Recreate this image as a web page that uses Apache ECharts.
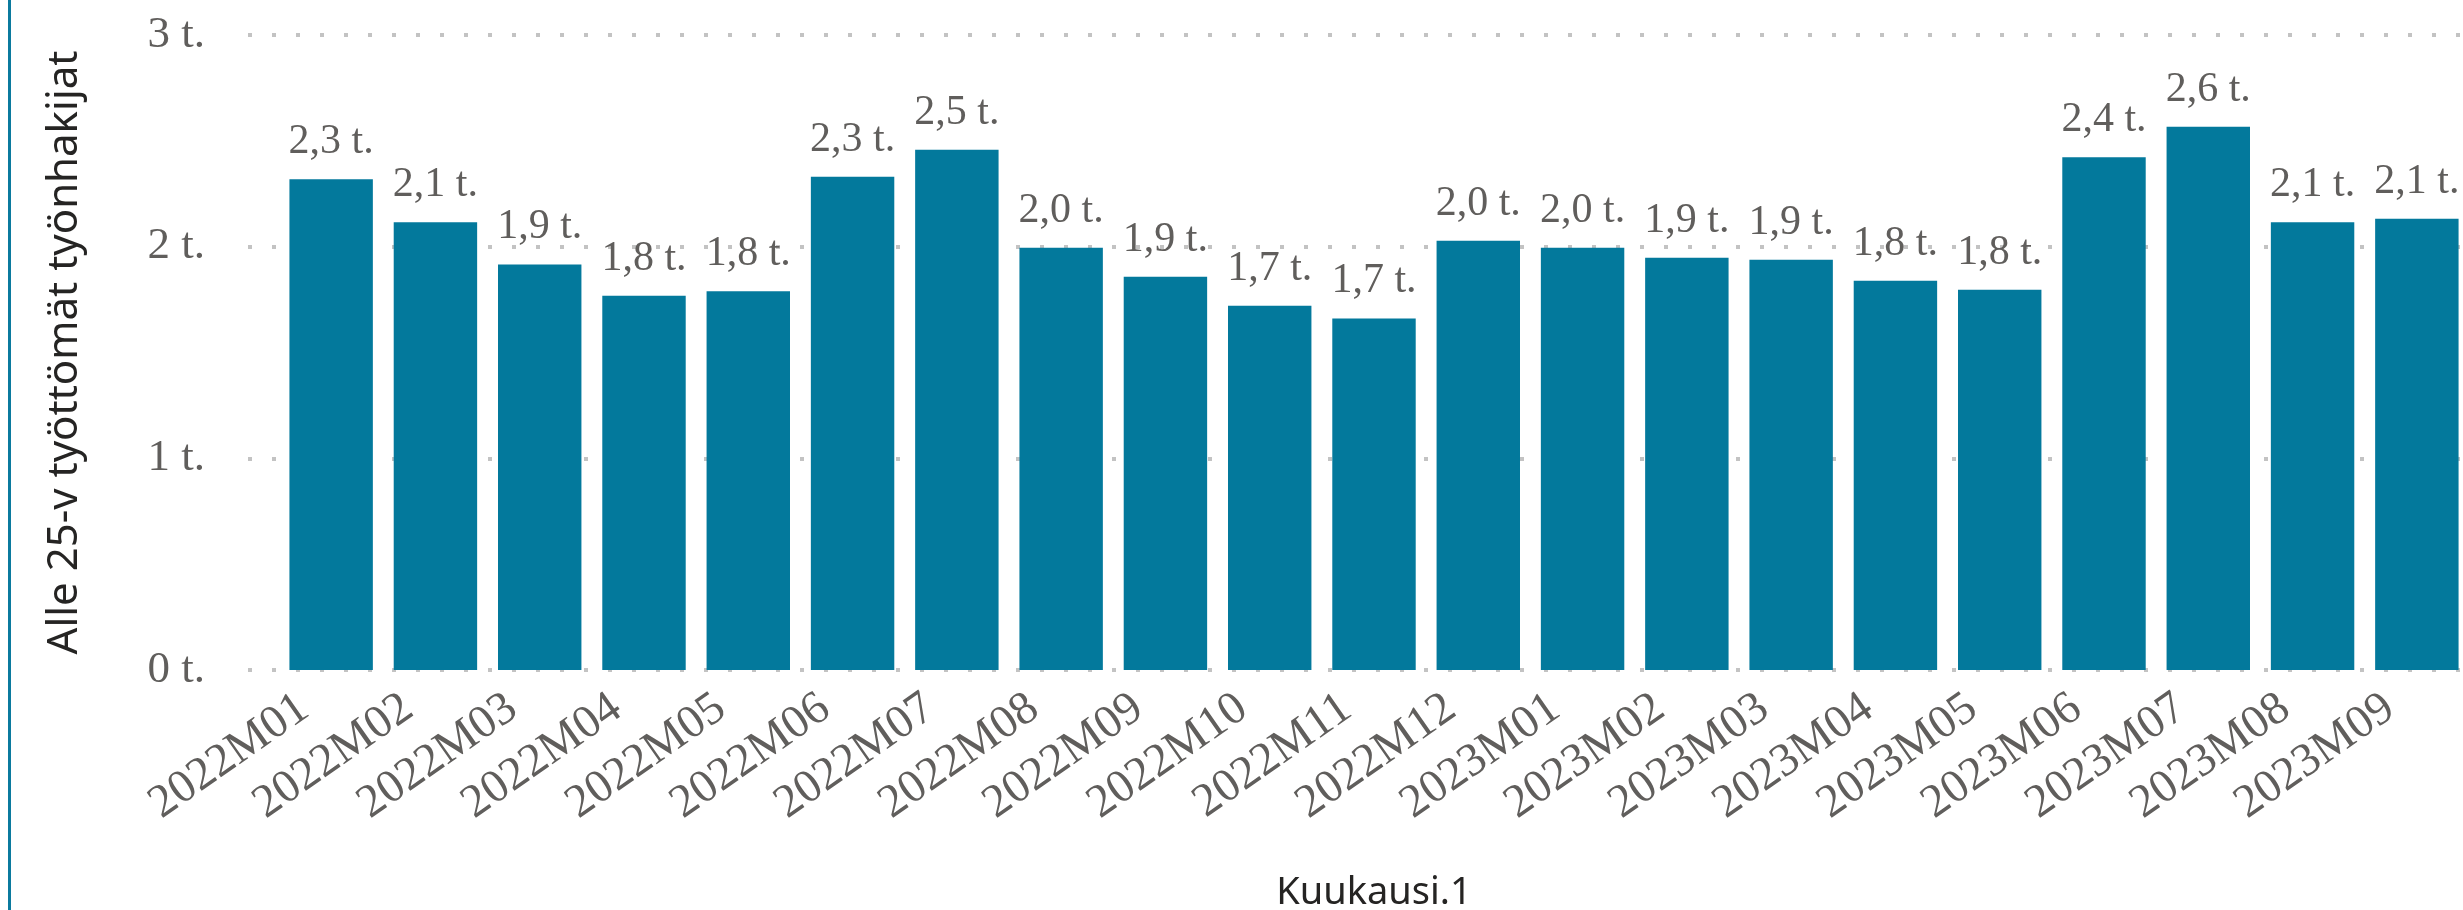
<!DOCTYPE html>
<html>
<head>
<meta charset="utf-8">
<title>Alle 25-v työttömät työnhakijat</title>
<script src="https://cdn.jsdelivr.net/npm/echarts@6/dist/echarts.min.js"></script>
<style>
  html, body { margin: 0; padding: 0; background: #fff; }
  #wrap { position: relative; width: 2463px; height: 910px; }
  #edge { position: absolute; left: 8px; top: 0; width: 3px; height: 910px; background: #0b7a9e; }
  #chart { position: absolute; left: 0; top: 0; width: 2463px; height: 910px; }
</style>
</head>
<body>
<div id="wrap">
  <div id="chart"></div>
  <div id="edge"></div>
</div>
<script>
// kuukaudet
const months = [
  '2022M01', '2022M02', '2022M03', '2022M04', '2022M05', '2022M06', '2022M07',
  '2022M08', '2022M09', '2022M10', '2022M11', '2022M12', '2023M01', '2023M02',
  '2023M03', '2023M04', '2023M05', '2023M06', '2023M07', '2023M08', '2023M09'
]

// alle 25-v työttömät työnhakijat (henkilöä, luettu kuvasta)
const jobseekers = [
  2318, 2115, 1916, 1768, 1789, 2330, 2458,
  1995, 1858, 1721, 1661, 2028, 1995, 1948,
  1938, 1839, 1796, 2422, 2566, 2115, 2132
]

// y-akselin jaotus tuhansina
const yTicks = [0, 1, 2, 3]

const barColor = '#03799c'
const labelGrey = '#605e5c'
const titleColor = '#252423'
const serif = '"Liberation Serif", "Times New Roman", serif'
const sans = '"Noto Sans", "DejaVu Sans", sans-serif'

const yMax = yTicks[yTicks.length - 1] * 1000
const fmtThousands = v => (v / 1000).toFixed(1).replace('.', ',') + ' t.'

const chart = echarts.init(document.getElementById('chart'))

chart.setOption({
  animation: false,
  grid: [
    // varsinainen pylväsalue
    { left: 279, right: -6, top: 35, bottom: 240, containLabel: false, outerBoundsMode: 'none' },
    // pisteviivat alkavat hieman pylväsaluetta vasemmalta
    { left: 248, right: 0, top: 35, bottom: 240, containLabel: false, outerBoundsMode: 'none' }
  ],
  xAxis: [
    {
      type: 'category',
      gridIndex: 0,
      data: months,
      name: 'Kuukausi.1',
      nameLocation: 'middle',
      nameGap: 204,
      nameTextStyle: {
        color: titleColor,
        fontFamily: sans,
        fontSize: 38
      },
      axisLine: { show: false },
      axisTick: { show: false },
      axisLabel: {
        interval: 0,
        rotate: 35,
        margin: 15,
        padding: [0, 33, 0, 0],
        color: labelGrey,
        fontFamily: serif,
        fontSize: 47
      }
    },
    {
      type: 'value',
      gridIndex: 1,
      min: 0,
      max: 1,
      show: false
    }
  ],
  yAxis: [
    {
      type: 'value',
      gridIndex: 0,
      min: yTicks[0],
      max: yMax,
      interval: 1000,
      name: 'Alle 25-v työttömät työnhakijat',
      nameLocation: 'middle',
      nameGap: 193,
      nameTextStyle: {
        color: titleColor,
        fontFamily: sans,
        fontSize: 42
      },
      axisLine: { show: false },
      axisTick: { show: false },
      axisLabel: {
        margin: 74,
        color: labelGrey,
        fontFamily: serif,
        fontSize: 45,
        formatter: v => (v / 1000) + ' t.'
      },
      splitLine: { show: false }
    },
    {
      type: 'value',
      gridIndex: 1,
      min: yTicks[0],
      max: yMax,
      interval: 1000,
      axisLine: { show: false },
      axisTick: { show: false },
      axisLabel: { show: false },
      splitLine: {
        show: true,
        lineStyle: {
          color: '#c3c3c3',
          width: 4,
          type: [4, 20]
        }
      }
    }
  ],
  series: [
    {
      type: 'bar',
      xAxisIndex: 0,
      yAxisIndex: 0,
      data: jobseekers,
      barCategoryGap: '20%',
      z: 3,
      itemStyle: { color: barColor },
      label: {
        show: true,
        position: 'top',
        distance: 16,
        color: labelGrey,
        fontFamily: serif,
        fontSize: 42,
        formatter: p => fmtThousands(p.value)
      }
    }
  ]
})

window.addEventListener('resize', () => chart.resize())
</script>
</body>
</html>
